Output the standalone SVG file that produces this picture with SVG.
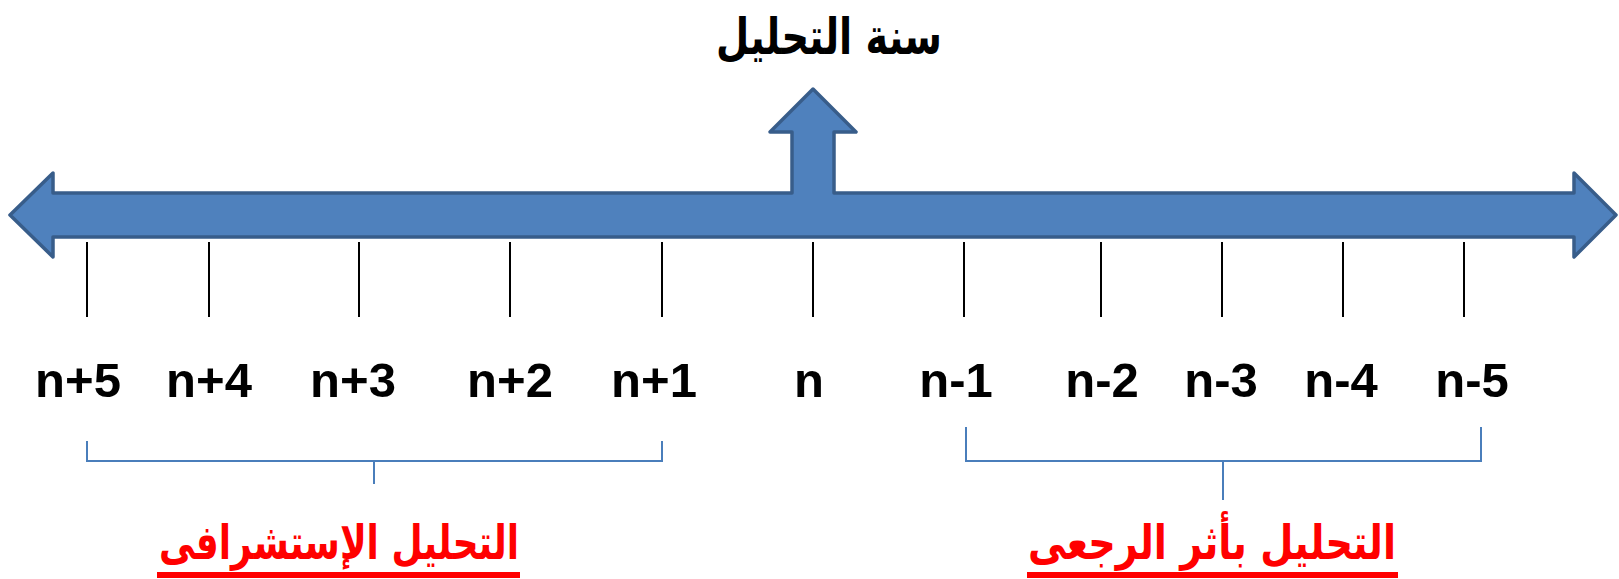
<svg xmlns="http://www.w3.org/2000/svg" width="1619" height="579" viewBox="0 0 1619 579">
<style>
.tick{stroke:#000;stroke-width:2}
.lbl{font-family:"Liberation Sans",Arial,sans-serif;font-weight:bold;font-size:49px;fill:#000;text-anchor:middle}
.ar{font-family:"DejaVu Sans",sans-serif;font-weight:bold;text-anchor:middle}
.brk{fill:none;stroke:#4A7EBB;stroke-width:2}
</style>
<rect width="1619" height="579" fill="#fff"/>
<g id="axis-arrow">
<path d="M10,215 L53,173 L53,193 L792,193 L792,132 L770,132 L813,89 L856,132 L834,132 L834,193 L1574,193 L1574,173 L1616,215 L1574,257 L1574,237 L53,237 L53,257 Z" fill="#4F81BD" stroke="#385D8A" stroke-width="3.5" stroke-linejoin="round"/>
</g>
<g id="title"><text class="ar" x="829" y="54" font-size="50" fill="#000" direction="rtl" textLength="226" lengthAdjust="spacingAndGlyphs">سنة التحليل</text></g>
<g id="ticks">
<line class="tick" x1="87" y1="242" x2="87" y2="317"/>
<line class="tick" x1="209" y1="242" x2="209" y2="317"/>
<line class="tick" x1="359" y1="242" x2="359" y2="317"/>
<line class="tick" x1="510" y1="242" x2="510" y2="317"/>
<line class="tick" x1="662" y1="242" x2="662" y2="317"/>
<line class="tick" x1="813" y1="242" x2="813" y2="317"/>
<line class="tick" x1="964" y1="242" x2="964" y2="317"/>
<line class="tick" x1="1101" y1="242" x2="1101" y2="317"/>
<line class="tick" x1="1222" y1="242" x2="1222" y2="317"/>
<line class="tick" x1="1343" y1="242" x2="1343" y2="317"/>
<line class="tick" x1="1464" y1="242" x2="1464" y2="317"/>
</g>
<g id="labels">
<text class="lbl" x="78" y="397">n+5</text>
<text class="lbl" x="209" y="397">n+4</text>
<text class="lbl" x="353" y="397">n+3</text>
<text class="lbl" x="510" y="397">n+2</text>
<text class="lbl" x="654" y="397">n+1</text>
<text class="lbl" x="809" y="397">n</text>
<text class="lbl" x="956" y="397">n-1</text>
<text class="lbl" x="1102" y="397">n-2</text>
<text class="lbl" x="1221" y="397">n-3</text>
<text class="lbl" x="1341" y="397">n-4</text>
<text class="lbl" x="1472" y="397">n-5</text>
</g>
<g id="connectors">
<path class="brk" d="M87,441 L87,461 L662,461 L662,441 M374,461 L374,484"/>
<path class="brk" d="M966,427 L966,461 L1481,461 L1481,427 M1223,461 L1223,500"/>
</g>
<g id="forecast-label">
<text class="ar" x="339" y="559" font-size="48" fill="#FF0000" direction="rtl" textLength="360" lengthAdjust="spacingAndGlyphs">التحليل الإستشرافى</text>
<rect x="157" y="572" width="363" height="6" fill="#FF0000"/>
</g>
<g id="backcast-label">
<text class="ar" x="1212" y="559" font-size="48" fill="#FF0000" direction="rtl" textLength="368" lengthAdjust="spacingAndGlyphs">التحليل بأثر الرجعى</text>
<rect x="1027" y="572" width="371" height="6" fill="#FF0000"/>
</g>
</svg>
